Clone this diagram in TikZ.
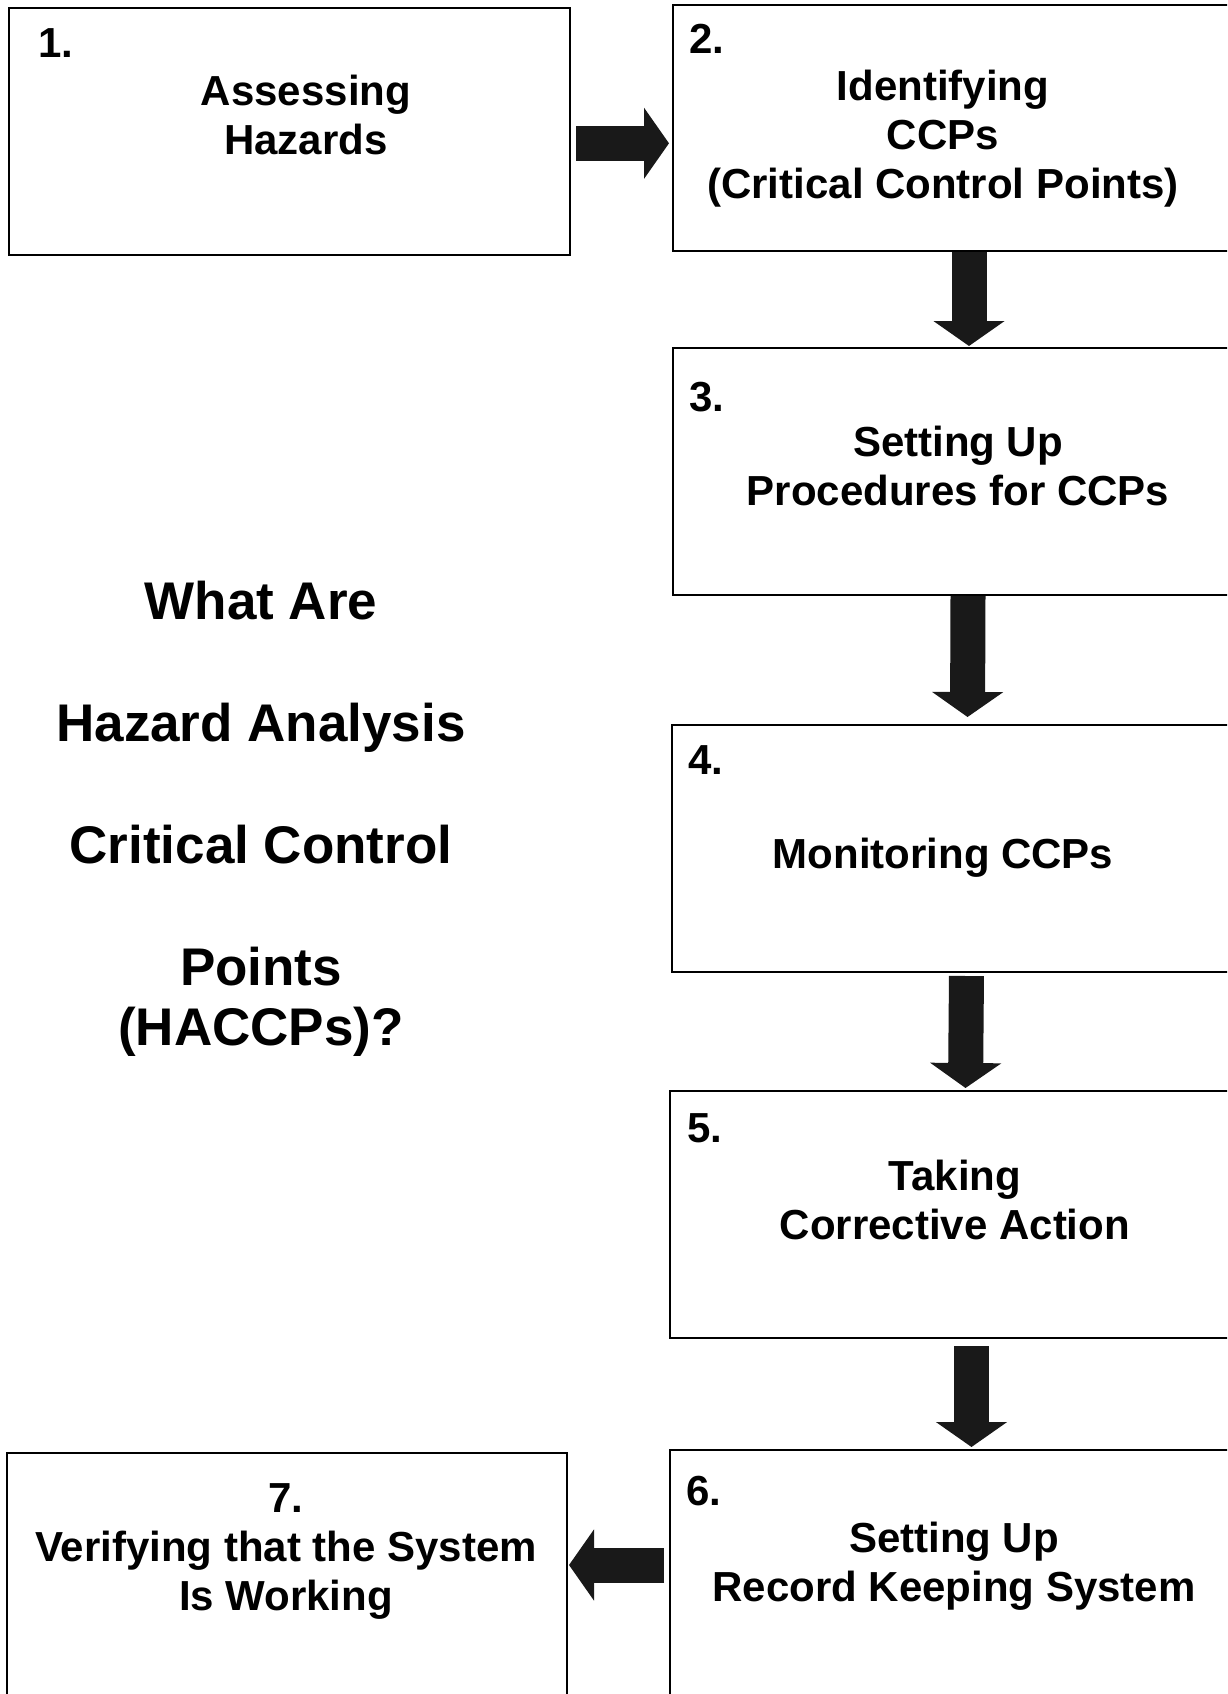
\documentclass[tikz,border=0pt]{standalone}
\usepackage{fontspec}
\setmainfont{Liberation Sans}
\usetikzlibrary{arrows.meta}

\begin{document}
\begin{tikzpicture}[
    x=1pt, y=-1pt,
    every node/.style={font=\bfseries\fontsize{42}{49}\selectfont},
    bx/.style={rectangle, draw, line width=2pt, inner sep=0pt},
    txt/.style={align=center, inner sep=0pt},
    num/.style={anchor=base west, inner sep=0pt},
    ttl/.style={align=center, inner sep=0pt,
                font=\bfseries\fontsize{53}{60}\selectfont},
    fat/.style={line width=35pt, black!90,
                -{Triangle[length=25pt, width=70pt]}},
  ]
  \clip (0,0) rectangle (1227,1694);
  % boxes
  \node[bx, minimum width=561.4pt, minimum height=247.4pt] (b1) at (289.3,131.3) {};
  \node[bx, minimum width=572pt, minimum height=245pt] (b2) at (959,128) {};
  \node[bx, minimum width=572pt, minimum height=247pt] (b3) at (959,471.5) {};
  \node[bx, minimum width=573pt, minimum height=247pt] (b4) at (958.5,848.5) {};
  \node[bx, minimum width=575pt, minimum height=247pt] (b5) at (957.5,1214.5) {};
  \node[bx, minimum width=575pt, minimum height=260pt] (b6) at (957.5,1580) {};
  \node[bx, minimum width=560.5pt, minimum height=257pt] (b7) at (286.75,1581.5) {};
  % step numbers
  \node[num] (n1) at (38,58) {1.};
  \node[num] (n2) at (689,53) {2.};
  \node[num] (n3) at (689,411) {3.};
  \node[num] (n4) at (688,774) {4.};
  \node[num] (n5) at (687,1142) {5.};
  \node[num] (n6) at (686,1505) {6.};
  % step texts
  \node[txt] (t1) at (306,115) {Assessing\\Hazards};
  \node[txt] (t2) at (943,138.5) {Identifying\\CCPs\\(Critical Control Points)};
  \node[txt] (t3) at (958,466) {Setting Up\\Procedures for CCPs};
  \node[txt] (t4) at (943,857.5) {Monitoring CCPs};
  \node[txt] (t5) at (955,1200) {Taking\\Corrective Action};
  \node[txt] (t6) at (954,1566) {Setting Up\\Record Keeping System};
  \node[txt] (t7) at (286,1551) {7.\\Verifying that the System\\Is Working};
  % title
  \node[ttl] (head) at (261,818.5) {What Are\\[62pt]Hazard Analysis\\[62pt]Critical Control\\[62pt]Points\\(HACCPs)?};
  % arrows
  \draw[fat, shorten <=5pt, shorten >=3pt] ([yshift=-12pt]b1.east) -- ([yshift=-12pt]b1.east -| b2.west);
  \draw[fat, shorten >=1pt] ([xshift=10pt]b2.south) -- ([xshift=10pt]b3.north);
  \draw[fat, shorten >=7pt] ([xshift=9pt]b3.south) -- ([xshift=9pt]b4.north);
  \draw[fat, shorten <=3pt, shorten >=2pt] ([xshift=8pt]b4.south) -- ([xshift=8pt]b5.north);
  \draw[fat, shorten <=7pt, shorten >=2pt] ([xshift=14pt]b5.south) -- ([xshift=14pt]b6.north);
  \draw[fat, shorten <=5pt, shorten >=1pt] ([yshift=15pt]b6.west) -- ([yshift=15pt]b6.west -| b7.east);
\end{tikzpicture}
\end{document}
